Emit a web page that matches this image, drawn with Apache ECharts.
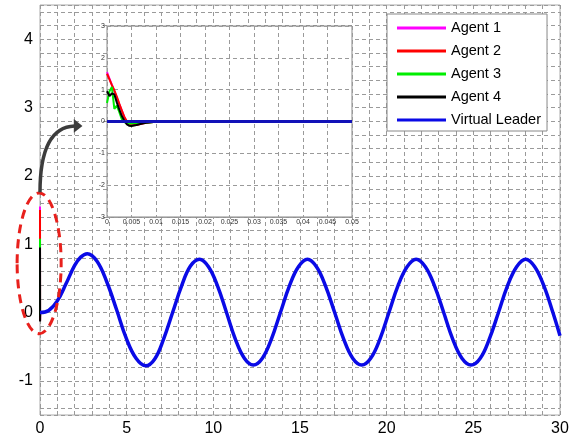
<!DOCTYPE html>
<html>
<head>
<meta charset="utf-8">
<script src="https://cdn.jsdelivr.net/npm/echarts@6/dist/echarts.min.js"></script>
<style>
  html, body { margin: 0; padding: 0; background: #fff; }
  #chart { width: 574px; height: 437px; }
</style>
</head>
<body>
<div id="chart"></div>
<script>
// main plot: virtual leader over t = 0..30 (extra points at the peaks)
const tMain = [0, 0.5, 1.0, 1.5, 2.0, 2.35, 2.73, 3.29, 3.85, 4.42, 4.98, 5.54, 6.10,
  6.62, 7.13, 7.65, 8.17, 8.68, 9.20, 9.72, 10.24, 10.76, 11.27, 11.79, 12.31,
  12.83, 13.35, 13.87, 14.39, 14.91, 15.43, 15.95, 16.47, 17.00, 17.52, 18.04, 18.56,
  19.08, 19.61, 20.13, 20.65, 21.18, 21.70, 22.23, 22.76, 23.29, 23.81, 24.34, 24.87,
  25.40, 25.92, 26.45, 26.97, 27.50, 28.02, 28.54, 29.07, 29.59, 30]
const leaderMain = [0.00, 0.03, 0.17, 0.42, 0.69, 0.81, 0.86, 0.75, 0.45, 0.04, -0.38, -0.67, -0.78,
  -0.68, -0.39, 0.00, 0.39, 0.68, 0.78, 0.67, 0.39, 0.00, -0.39, -0.67, -0.77,
  -0.67, -0.39, 0.00, 0.39, 0.67, 0.78, 0.67, 0.39, 0.00, -0.39, -0.67, -0.77,
  -0.67, -0.39, 0.00, 0.39, 0.67, 0.78, 0.67, 0.39, 0.00, -0.39, -0.67, -0.77,
  -0.67, -0.39, 0.00, 0.39, 0.67, 0.78, 0.67, 0.39, 0.00, -0.34]

// zoomed start (inset): t = 0..0.05
const tInset = [0, 0.0005, 0.001, 0.0015, 0.002, 0.0025, 0.003, 0.0035, 0.004, 0.0045, 0.005,
  0.006, 0.007, 0.008, 0.009, 0.01, 0.012, 0.015, 0.02, 0.03, 0.05]
const agent1 = [1.55, 1.35, 1.15, 0.95, 0.75, 0.55, 0.35, 0.15, 0.00, -0.08, -0.12, -0.10, -0.06, -0.03, -0.01, 0, 0, 0, 0, 0, 0]
const agent2 = [1.50, 1.32, 1.14, 0.98, 0.78, 0.56, 0.36, 0.16, 0.02, -0.07, -0.12, -0.11, -0.07, -0.04, -0.02, -0.01, 0, 0, 0, 0, 0]
const agent3 = [0.58, 0.95, 1.08, 0.40, 0.50, 0.30, 0.08, -0.02, -0.05, -0.06, -0.06, -0.05, -0.04, -0.03, -0.02, -0.01, 0, 0, 0, 0, 0]
const agent4 = [0.95, 0.80, 0.88, 0.85, 0.60, 0.38, 0.18, 0.04, -0.08, -0.13, -0.14, -0.11, -0.07, -0.04, -0.02, -0.01, 0, 0, 0, 0, 0]
const leaderInset = [0, 0, 0, 0, 0, 0, 0, 0, 0, 0, 0, 0, 0, 0, 0, 0, 0, 0, 0, 0, 0]

const names = ['Agent 1', 'Agent 2', 'Agent 3', 'Agent 4', 'Virtual Leader']
const colors = ['#ff00ff', '#ff0000', '#00ee00', '#000000', '#0a0ae6']
const agents = [agent1, agent2, agent3, agent4]

const font = 'Liberation Sans'
const pairs = (xs, ys) => xs.map((x, i) => [x, ys[i]])
const dashed = { lineStyle: { color: '#9a9a9a', type: [4, 3], width: 1 } }

const series = []
// agents squeezed at t=0 on the main axes
agents.forEach((a, i) => {
  series.push({
    name: names[i], type: 'line', xAxisIndex: 0, yAxisIndex: 0,
    data: pairs(tInset, a), showSymbol: false,
    lineStyle: { color: colors[i], width: 2 }, itemStyle: { color: colors[i] }
  })
})
series.push({
  name: 'Virtual Leader', type: 'line', xAxisIndex: 0, yAxisIndex: 0,
  data: pairs(tMain, leaderMain), smooth: 0.4, showSymbol: false,
  lineStyle: { color: colors[4], width: 3.5 }, itemStyle: { color: colors[4] }
})
// inset
agents.forEach((a, i) => {
  series.push({
    name: names[i], type: 'line', xAxisIndex: 1, yAxisIndex: 1, z: 12,
    data: pairs(tInset, a), showSymbol: false,
    lineStyle: { color: colors[i], width: 2 }, itemStyle: { color: colors[i] }
  })
})
series.push({
  name: 'Virtual Leader', type: 'line', xAxisIndex: 1, yAxisIndex: 1, z: 13,
  data: pairs(tInset, leaderInset), showSymbol: false,
  lineStyle: { color: '#1212b8', width: 3 }, itemStyle: { color: colors[4] }
})

const option = {
  animation: false,
  backgroundColor: '#fff',
  textStyle: { fontFamily: font },
  grid: [
    { left: 40, top: 5, right: 14, bottom: 22, show: true, borderColor: '#aaa', borderWidth: 1, backgroundColor: '#fff' },
    { left: 107, top: 26, width: 245, height: 191, show: true, borderColor: '#888', borderWidth: 1, backgroundColor: '#fff', z: 10 }
  ],
  legend: {
    data: names, orient: 'vertical', left: 387, top: 14,
    padding: [6, 6, 3, 10], itemGap: 7, itemWidth: 49, itemHeight: 3, icon: 'rect',
    backgroundColor: '#fff', borderColor: '#888', borderWidth: 1, borderRadius: 0,
    textStyle: { fontFamily: font, fontSize: 14.5, color: '#000', lineHeight: 16 },
    z: 20
  },
  xAxis: [
    {
      type: 'value', gridIndex: 0, min: 0, max: 30, interval: 1,
      axisLine: { show: false }, axisTick: { show: false },
      axisLabel: { fontFamily: font, fontSize: 16, color: '#000', margin: 6,
        formatter: v => (v % 5 === 0 ? String(v) : '') },
      splitLine: Object.assign({ show: true }, dashed)
    },
    {
      type: 'value', gridIndex: 1, min: 0, max: 0.05, interval: 0.005, z: 11,
      axisLine: { show: false }, axisTick: { show: false },
      axisLabel: { fontFamily: font, fontSize: 7, color: '#333', margin: 2 },
      splitLine: Object.assign({ show: true }, dashed)
    }
  ],
  yAxis: [
    {
      type: 'value', gridIndex: 0, min: -1.5, max: 4.5, splitNumber: 30,
      axisLine: { show: false }, axisTick: { show: false },
      axisLabel: { fontFamily: font, fontSize: 16, color: '#000', margin: 7,
        formatter: v => (Math.abs(v - Math.round(v)) < 1e-6 ? String(Math.round(v)) : '') },
      splitLine: Object.assign({ show: true }, dashed)
    },
    {
      type: 'value', gridIndex: 1, min: -3, max: 3, interval: 1, z: 11,
      axisLine: { show: false }, axisTick: { show: false },
      axisLabel: { fontFamily: font, fontSize: 7, color: '#333', margin: 2 },
      splitLine: Object.assign({ show: true }, dashed)
    }
  ],
  series: series
}

const chart = echarts.init(document.getElementById('chart'))
chart.setOption(option)

// annotation: dashed ellipse round the start, and an arrow to the inset
const px = p => chart.convertToPixel({ gridIndex: 0 }, p)
const c = px([-0.05, 0.72])
const rx = px([1.27, 0])[0] - px([0, 0])[0]
const ry = px([0, 0])[1] - px([0, 1.03])[1]
const a0 = px([0, 1.76]), a1 = px([0, 2.45]), a2 = px([0.8, 2.72]), a3 = px([2.0, 2.73])
const tip = px([2.45, 2.73]), b1 = px([1.95, 2.83]), b2 = px([1.95, 2.63])

chart.setOption({
  graphic: [
    { type: 'ellipse', z: 100, silent: true,
      shape: { cx: c[0], cy: c[1], rx: rx, ry: ry },
      style: { fill: 'none', stroke: '#e8201c', lineWidth: 3, lineDash: [9, 6] } },
    { type: 'bezierCurve', z: 100, silent: true,
      shape: { x1: a0[0], y1: a0[1], cpx1: a1[0], cpy1: a1[1], cpx2: a2[0], cpy2: a2[1], x2: a3[0], y2: a3[1] },
      style: { fill: 'none', stroke: '#3c3c3c', lineWidth: 3.5 } },
    { type: 'polygon', z: 100, silent: true,
      shape: { points: [tip, b1, b2] },
      style: { fill: '#3c3c3c' } }
  ]
})
</script>
</body>
</html>
